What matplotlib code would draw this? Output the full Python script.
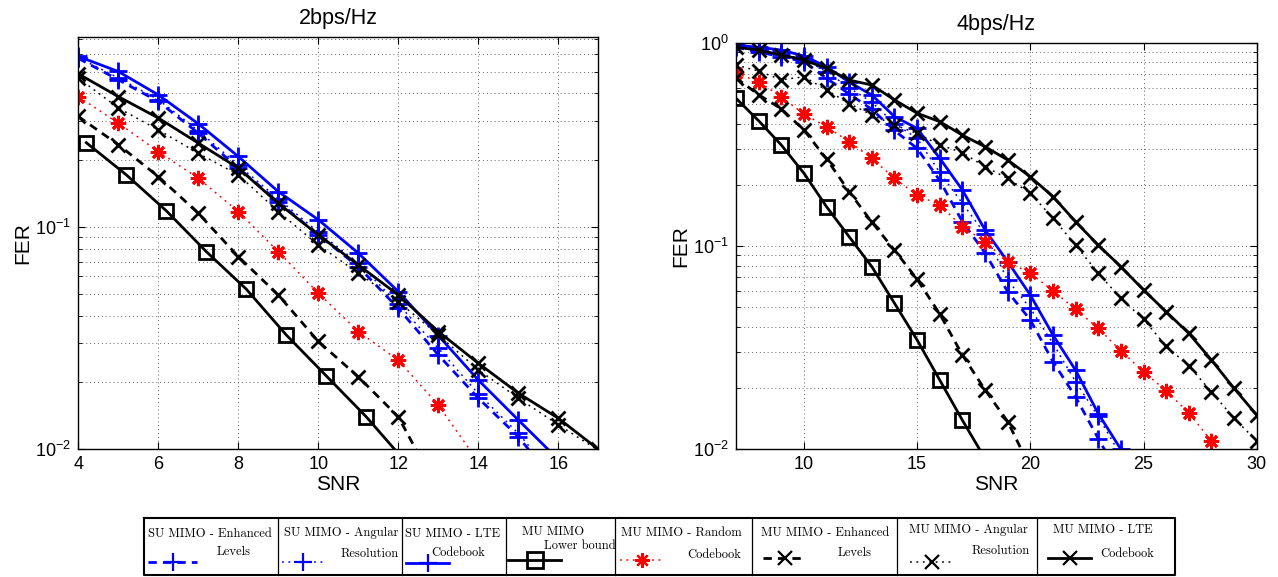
import numpy as np
import matplotlib
matplotlib.use("Agg")
import matplotlib.pyplot as plt
from matplotlib.ticker import NullFormatter, FuncFormatter, LogLocator

plt.rcParams['font.family'] = ['Liberation Sans', 'DejaVu Sans']
plt.rcParams['mathtext.default'] = 'regular'

# ---------------- data: 2 bps/Hz ----------------
snr2 = np.arange(4, 18)                      # 4..17
su_enh_2 = [0.575, 0.461, 0.368, 0.265, 0.1845, 0.130, 0.0922, 0.0664, 0.0431, 0.0266, 0.0170, 0.0114, 0.0068]
su_ang_2 = [0.58, 0.47, 0.375, 0.272, 0.19, 0.134, 0.095, 0.069, 0.045, 0.0285, 0.0178, 0.0118, 0.0072]
su_lte_2 = [0.587, 0.502, 0.394, 0.292, 0.208, 0.1445, 0.108, 0.0764, 0.0513, 0.0325, 0.0205, 0.01355, 0.0090]
mu_lb_snr2 = [4.2, 5.2, 6.2, 7.2, 8.2, 9.2, 10.2, 11.2, 12.2]
mu_lb_2 = [0.240, 0.172, 0.1185, 0.0776, 0.0526, 0.0327, 0.0214, 0.0140, 0.0087]
mu_rand_2 = [0.387, 0.294, 0.219, 0.166, 0.1175, 0.0776, 0.0505, 0.0339, 0.0252, 0.0158, 0.0088]
mu_enh_2 = [0.315, 0.235, 0.169, 0.1155, 0.0737, 0.0495, 0.0306, 0.0212, 0.0140, 0.0065]
mu_ang_2 = [0.469, 0.344, 0.274, 0.215, 0.172, 0.1175, 0.0831, 0.0621, 0.0462, 0.0327, 0.0228, 0.0170, 0.0129, 0.0099]
mu_lte_2 = [0.49, 0.387, 0.310, 0.239, 0.1845, 0.128, 0.0923, 0.0676, 0.0495, 0.0339, 0.0244, 0.0179, 0.0138, 0.0100]

# ---------------- data: 4 bps/Hz ----------------
snr4 = np.arange(7, 31)                      # 7..30
su_enh_4 = [0.95, 0.90, 0.853, 0.807, 0.668, 0.56, 0.47, 0.37, 0.302, 0.21, 0.1317, 0.0924, 0.0596, 0.0433, 0.0270, 0.0181, 0.0113, 0.0072]
su_ang_4 = [0.96, 0.93, 0.88, 0.83, 0.72, 0.60, 0.51, 0.40, 0.339, 0.23, 0.162, 0.1146, 0.068, 0.0494, 0.0332, 0.0215, 0.0145, 0.0093]
su_lte_4 = [0.97, 0.95, 0.92, 0.86, 0.762, 0.64, 0.553, 0.433, 0.379, 0.270, 0.1886, 0.120, 0.0838, 0.0574, 0.0365, 0.0245, 0.0150, 0.0100]
mu_lb_4 = [0.533, 0.413, 0.314, 0.228, 0.156, 0.111, 0.0791, 0.0523, 0.0345, 0.0219, 0.0139, 0.0090]
mu_rand_4 = [0.707, 0.643, 0.542, 0.446, 0.386, 0.326, 0.270, 0.215, 0.178, 0.159, 0.1245, 0.105,
             0.0838, 0.0734, 0.0603, 0.0488, 0.0394, 0.0305, 0.0241, 0.0194, 0.0151, 0.0110]
mu_enh_4 = [0.671, 0.555, 0.473, 0.372, 0.268, 0.185, 0.131, 0.0955, 0.0686, 0.0463, 0.0291, 0.0196, 0.0137, 0.0081]
mu_ang_4 = [0.777, 0.725, 0.657, 0.68, 0.585, 0.502, 0.441, 0.394, 0.358, 0.314, 0.288, 0.2455,
            0.215, 0.182, 0.137, 0.101, 0.0734, 0.0553, 0.0436, 0.0322, 0.0257, 0.0192, 0.0142, 0.0110]
mu_lte_4 = [0.95, 0.92, 0.87, 0.822, 0.748, 0.655, 0.619, 0.523, 0.450, 0.409, 0.351, 0.308,
            0.265, 0.219, 0.175, 0.1317, 0.101, 0.0791, 0.0608, 0.0475, 0.0372, 0.0275, 0.01995, 0.01475]

titles = ['2bps/Hz', '4bps/Hz']
xticks_l = [4, 6, 8, 10, 12, 14, 16]
xticks_r = [10, 15, 20, 25, 30]

leg_line1 = ['SU MIMO - Enhanced', 'SU MIMO - Angular', 'SU MIMO - LTE', 'MU MIMO',
             'MU MIMO - Random', 'MU MIMO - Enhanced', 'MU MIMO - Angular', 'MU MIMO - LTE']
leg_line2 = ['Levels', 'Resolution', 'Codebook', 'Lower bound',
             'Codebook', 'Levels', 'Resolution', 'Codebook']

# ---------------- styles ----------------
DASH = (0, (3, 2.2))
DOT = (0, (1.2, 3.0))
AST = (8, 2, 0)
styles = [
    dict(color='blue', ls=DASH, lw=2.0, marker='+', ms=13, mew=2.0),          # SU enh
    dict(color='blue', ls=DOT, lw=1.1, marker='+', ms=13, mew=2.0),           # SU ang
    dict(color='blue', ls='-', lw=2.0, marker='+', ms=13, mew=2.0),           # SU LTE
    dict(color='black', ls='-', lw=2.0, marker='s', ms=9.5, mew=2.0, mfc='none'),  # MU LB
    dict(color='red', ls=DOT, lw=1.1, marker=AST, ms=11, mew=2.0),            # MU rand
    dict(color='black', ls=DASH, lw=2.0, marker='x', ms=10, mew=2.0),         # MU enh
    dict(color='black', ls=DOT, lw=1.1, marker='x', ms=10, mew=2.0),          # MU ang
    dict(color='black', ls='-', lw=2.0, marker='x', ms=10, mew=2.0),          # MU LTE
]

W, H = 1278, 577
fig = plt.figure(figsize=(W / 100, H / 100), dpi=100)


def px_axes(x0, y0, x1, y1):
    return fig.add_axes([x0 / W, 1 - y1 / H, (x1 - x0) / W, (y1 - y0) / H])


ax1 = px_axes(78.3, 36.7, 598.3, 449.3)
ax2 = px_axes(736, 42.7, 1256.7, 449.3)

series2 = [
    (snr2[:len(su_enh_2)], su_enh_2), (snr2[:len(su_ang_2)], su_ang_2), (snr2[:len(su_lte_2)], su_lte_2),
    (mu_lb_snr2, mu_lb_2), (snr2[:len(mu_rand_2)], mu_rand_2), (snr2[:len(mu_enh_2)], mu_enh_2),
    (snr2[:len(mu_ang_2)], mu_ang_2), (snr2[:len(mu_lte_2)], mu_lte_2)]
series4 = [
    (snr4[:len(su_enh_4)], su_enh_4), (snr4[:len(su_ang_4)], su_ang_4), (snr4[:len(su_lte_4)], su_lte_4),
    (snr4[:len(mu_lb_4)], mu_lb_4), (snr4[:len(mu_rand_4)], mu_rand_4), (snr4[:len(mu_enh_4)], mu_enh_4),
    (snr4[:len(mu_ang_4)], mu_ang_4), (snr4[:len(mu_lte_4)], mu_lte_4)]


def fmt(v, pos):
    e = int(round(np.log10(v)))
    return r'$10^{%d}$' % e


for ax, series, title, xl, yl, xt in [
        (ax1, series2, titles[0], (4, 17), (0.01, 0.72), xticks_l),
        (ax2, series4, titles[1], (7, 30), (0.01, 1.0), xticks_r)]:
    for (xs, ys), st in zip(series, styles):
        ax.plot(xs, ys, clip_on=True, **st)
    ax.set_yscale('log')
    ax.set_xlim(*xl)
    ax.set_ylim(*yl)
    ax.set_xticks(xt)
    ax.yaxis.set_major_locator(LogLocator(base=10, numticks=10))
    ax.yaxis.set_minor_locator(LogLocator(base=10, subs=np.arange(2, 10), numticks=20))
    ax.yaxis.set_major_formatter(FuncFormatter(fmt))
    ax.yaxis.set_minor_formatter(NullFormatter())
    ax.grid(True, which='major', axis='both', ls=(0, (1, 3)), lw=0.7, color='0.4')
    ax.grid(True, which='minor', axis='y', ls=(0, (1, 3)), lw=0.7, color='0.4')
    ax.tick_params(which='both', direction='in', top=True, right=True, labelsize=13, pad=5)
    ax.tick_params(which='major', length=5, width=0.8)
    ax.tick_params(which='minor', length=3, width=0.6)
    for sp in ax.spines.values():
        sp.set_linewidth(1.0)
    ax.set_title(title, fontsize=15.5, pad=9)
    ax.set_xlabel('SNR', fontsize=15, labelpad=1)
    ax.set_ylabel('FER', fontsize=15, labelpad=2)

# ---------------- legend drawn as a box of cells ----------------
lax = fig.add_axes([0, 0, 1, 1])
lax.set_xlim(0, W)
lax.set_ylim(H, 0)
lax.axis('off')

edges = [144, 278, 401.7, 505.7, 615, 752, 897, 1037, 1175]
box_top, box_bot = 517.5, 574.5
lax.plot([edges[0], edges[-1], edges[-1], edges[0], edges[0]],
         [box_top, box_top, box_bot, box_bot, box_top], color='black', lw=1.5)
for e in edges[1:-1]:
    lax.plot([e, e], [box_top, box_bot], color='black', lw=0.9)

t1x = [148, 284, 405, 522, 621, 761, 909, 1053]
t1y = [534, 532.5, 534, 531.5, 532.5, 532.5, 530, 530]
t2x = [217, 341, 431, 544, 687, 837.6, 972, 1100]
t2y = [552, 553.5, 553, 546, 555, 553, 551, 554]
hx = [(148, 197), (282, 323), (406, 449), (508, 561), (620, 663), (763, 806), (910, 953), (1048, 1091)]
hy = [562, 562, 563, 560, 560, 558, 562, 558]

for i in range(8):
    lax.text(t1x[i], t1y[i], leg_line1[i], family='cmr10', fontsize=9, ha='left', va='center')
    lax.text(t2x[i], t2y[i], leg_line2[i], family='cmr10', fontsize=9, ha='left', va='center')
    st = dict(styles[i])
    mk = st.pop('marker'); ms = st.pop('ms'); mew = st.pop('mew'); mfc = st.pop('mfc', None)
    lax.plot([hx[i][0], hx[i][1]], [hy[i], hy[i]], **st)
    kw = dict(marker=mk, ms=ms * 0.95, mew=1.6, color=st['color'], ls='none')
    if mfc is not None:
        kw['mfc'] = mfc
        kw['ms'] = ms * 1.25
        kw['mew'] = 2.0
    lax.plot([(hx[i][0] + hx[i][1]) / 2], [hy[i]], **kw)

fig.savefig('out.png', dpi=100)
